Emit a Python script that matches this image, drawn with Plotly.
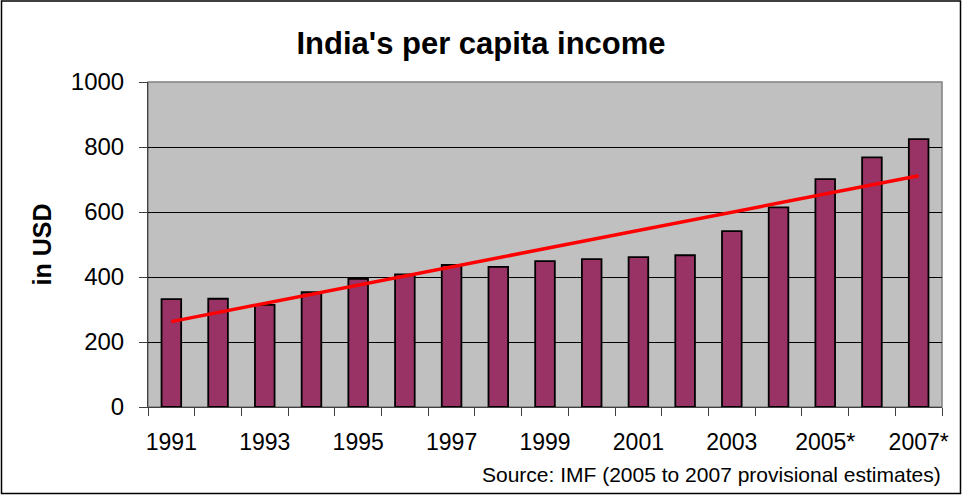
import numpy as np
import plotly.graph_objects as go

years = ["1991", "1992", "1993", "1994", "1995", "1996", "1997", "1998", "1999",
         "2000", "2001", "2002", "2003", "2004", "2005*", "2006*", "2007*"]
income = [332, 333, 314, 353, 394, 408, 437, 431, 449, 455, 461, 467, 541, 614, 701, 768, 824]
y_ticks = [0, 200, 400, 600, 800, 1000]

x = np.arange(len(years))
slope, intercept = np.polyfit(x, income, 1)
trend = slope * x + intercept

W, H = 962, 495
L, R, T, B = 148, 20, 82, 88
pw = W - L - R
ph = H - T - B

def px(v):
    return (v - L) / pw

def py(v):
    return 1 - (v - T) / ph

fig = go.Figure()
fig.add_trace(go.Bar(
    x=x, y=income, width=0.42,
    marker=dict(color="#993366", line=dict(color="black", width=1.8)),
    showlegend=False, hoverinfo="skip"))
fig.add_trace(go.Scatter(
    x=[x[0], x[-1]], y=[trend[0], trend[-1]], mode="lines",
    line=dict(color="#FF0000", width=3.5), showlegend=False, hoverinfo="skip"))

font = "Liberation Sans, Arial, sans-serif"
fig.update_layout(
    width=W, height=H,
    margin=dict(l=L, r=R, t=T, b=B, pad=0),
    paper_bgcolor="white", plot_bgcolor="#C0C0C0",
    font=dict(family=font, color="black", size=23),
    title=dict(text="<b>India's per capita income</b>", x=0.5, xref="container",
               xanchor="center", y=1 - 43 / H, yanchor="middle",
               font=dict(size=31, family=font, color="black")),
    xaxis=dict(range=[-0.5, len(years) - 0.5],
               tickvals=list(x[::2]), ticktext=years[::2],
               ticks="", showgrid=False, zeroline=False,
               showline=True, linecolor="#404040", linewidth=1,
               tickfont=dict(size=23), ticklabelstandoff=14,
               minor=dict(tickvals=list(np.arange(-0.5, len(years), 1.0)),
                          ticks="outside", ticklen=8, tickcolor="#404040",
                          showgrid=False)),
    yaxis=dict(range=[0, 1000], tickvals=y_ticks, ticks="outside", ticklen=8,
               tickcolor="#404040", showgrid=True, gridcolor="black", gridwidth=1,
               zeroline=False, showline=True, linecolor="#404040", linewidth=1,
               tickfont=dict(size=24), ticklabelstandoff=10,
               title=dict(text="<b>in USD</b>", font=dict(size=25), standoff=12)),
    shapes=[
        dict(type="rect", xref="paper", yref="paper", x0=0, x1=1, y0=0, y1=1,
             line=dict(color="#808080", width=1.5), layer="below"),
        dict(type="rect", xref="paper", yref="paper",
             x0=px(1.5), x1=px(960.5), y0=py(1), y1=py(493.5),
             line=dict(color="black", width=1.5)),
    ],
    annotations=[
        dict(text="Source: IMF (2005 to 2007 provisional estimates)",
             xref="paper", yref="paper", x=px(943), y=py(474),
             xanchor="right", yanchor="middle", showarrow=False,
             font=dict(size=21, color="black")),
    ],
)

fig.write_html("out.html", config={"displayModeBar": False},
               post_script="document.body.style.margin='0';document.body.style.overflow='hidden';")
